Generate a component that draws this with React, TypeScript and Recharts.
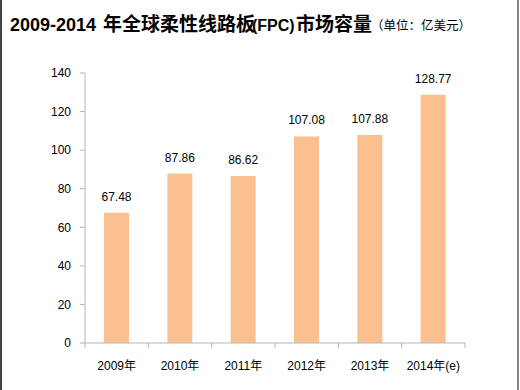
import { BarChart, Bar, XAxis, YAxis, LabelList } from "recharts";

const years = ["2009年", "2010年", "2011年", "2012年", "2013年", "2014年(e)"];
const marketSize = [67.48, 87.86, 86.62, 107.08, 107.88, 128.77];
const yTicks = [0, 20, 40, 60, 80, 100, 120, 140];

const data = years.map((year, i) => ({ year, value: marketSize[i] }));

const FONT = "'Liberation Sans', Arial, 'Noto Sans CJK SC', sans-serif";
const AXIS = "#b5b5b5";

const CHART_W = 520;
const CHART_H = 390;
const MARGIN = { top: 73, right: 55, bottom: 17, left: 40 };
const Y_AXIS_W = 45;
const PLOT_W = CHART_W - MARGIN.left - MARGIN.right - Y_AXIS_W;
const X_TICK = 5;
const X_GAP = 13;

// category label in the middle, tick marks on the band edges (Excel style)
const renderEdgeTick = (props: any) => {
  const { x, y, payload, index } = props;
  const half = PLOT_W / years.length / 2;
  const axisY = y - X_TICK - X_GAP;
  return (
    <g key={"t" + index}>
      <line x1={x - half} x2={x - half} y1={axisY} y2={axisY + X_TICK} stroke={AXIS} />
      {index === years.length - 1 && (
        <line x1={x + half} x2={x + half} y1={axisY} y2={axisY + X_TICK} stroke={AXIS} />
      )}
      <text x={x} y={y + 9} textAnchor="middle" fontSize={12} fill="#000" fontFamily={FONT}>
        {payload.value}
      </text>
    </g>
  );
};

export default function App() {
  return (
    <div
      style={{
        position: "absolute",
        left: 0,
        top: 0,
        width: 520,
        height: 390,
        background: "#fff",
        overflow: "hidden",
      }}
    >
      <div style={{ position: "absolute", left: 0, top: 0, width: 2, height: 390, background: "#444" }} />
      <div style={{ position: "absolute", left: 517, top: 0, width: 2, height: 390, background: "#858585" }} />
      <svg width={520} height={50} style={{ position: "absolute", left: 0, top: 0 }}>
        <text y={31} fontWeight="bold" fill="#000" fontFamily={FONT}>
          <tspan x={10} fontSize={18}>2009-2014</tspan>
          <tspan x={103} fontSize={19}>年全球柔性线路板</tspan>
          <tspan x={252} fontSize={16}>(FPC)</tspan>
          <tspan x={296} fontSize={19}>市场容量</tspan>
        </text>
        <text x={371} y={30} fontSize={12.5} fill="#000" fontFamily="'Noto Sans CJK SC', sans-serif">
          （单位：亿美元）
        </text>
      </svg>
      <div style={{ position: "absolute", left: 0, top: 0 }}>
        <BarChart width={CHART_W} height={CHART_H} data={data} margin={MARGIN}>
          <XAxis
            dataKey="year"
            stroke={AXIS}
            tickLine={false}
            tickSize={X_TICK}
            tickMargin={X_GAP}
            height={30}
            interval={0}
            tick={renderEdgeTick}
          />
          <YAxis
            domain={[0, 140]}
            ticks={yTicks}
            width={Y_AXIS_W}
            stroke={AXIS}
            tickSize={5}
            tickMargin={9}
            tick={{ fontSize: 12, fill: "#000", fontFamily: FONT }}
          />
          <Bar dataKey="value" fill="#fac090" barSize={25} isAnimationActive={false}>
            <LabelList
              dataKey="value"
              position="top"
              offset={12}
              fontSize={12}
              fill="#000"
              fontFamily={FONT}
              formatter={(v: any) => Number(v).toFixed(2)}
            />
          </Bar>
        </BarChart>
      </div>
    </div>
  );
}
